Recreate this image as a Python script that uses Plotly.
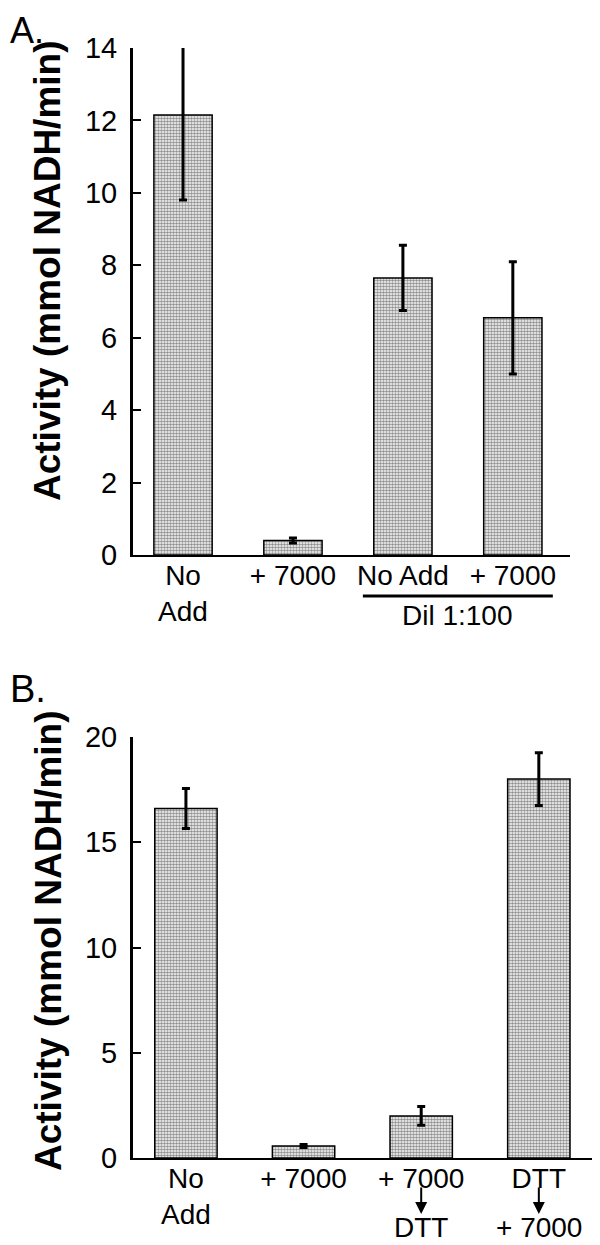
import plotly.graph_objects as go
from plotly.subplots import make_subplots

# panel A
labels_a = ["No<br>Add", "+ 7000", "No Add", "+ 7000"]
activity_a = [12.15, 0.4, 7.65, 6.55]
error_a = [2.35, 0.07, 0.9, 1.55]

# panel B (second line of the last two labels goes below an arrow)
labels_b = ["No<br>Add", "+ 7000", "+ 7000", "DTT"]
labels_b_after = ["", "", "DTT", "+ 7000"]
activity_b = [16.6, 0.57, 2.0, 18.0]
error_b = [0.95, 0.07, 0.45, 1.25]

ytitle = "Activity (mmol NADH/min)"
font = "Arial, Liberation Sans, sans-serif"

# page body has an 8px margin, so the figure is sized to fill the window
W, H = 592, 1237
OFF = 8


def px(v, total):
    return (v - OFF) / total


def py(v):
    return 1 - (v - OFF) / H


fig = make_subplots(rows=2, cols=1)

bar_style = dict(
    marker=dict(
        color="white",
        line=dict(color="black", width=1.5),
        pattern=dict(shape=".", fgcolor="#222", bgcolor="white", size=3, solidity=0.6),
    ),
    width=0.53,
    showlegend=False,
)
err_style = dict(type="data", visible=True, color="black", thickness=3, width=4)

fig.add_bar(x=list(range(len(activity_a))), y=activity_a,
            error_y=dict(array=error_a, **err_style), row=1, col=1, **bar_style)
fig.add_bar(x=list(range(len(activity_b))), y=activity_b,
            error_y=dict(array=error_b, **err_style), row=2, col=1, **bar_style)

fig.update_layout(
    width=W, height=H,
    margin=dict(l=0, r=0, t=0, b=0),
    plot_bgcolor="white", paper_bgcolor="white",
    font=dict(family=font, color="black"),
    xaxis=dict(domain=[px(133, W), px(570, W)], range=[-0.455, 3.52],
               tickvals=list(range(4)), ticktext=labels_a),
    xaxis2=dict(domain=[px(133, W), 1.0], range=[-0.45, 3.52],
                tickvals=list(range(4)), ticktext=labels_b),
    yaxis=dict(domain=[py(555), py(48)], range=[0, 14], dtick=2),
    yaxis2=dict(domain=[py(1158), py(737)], range=[0, 20], dtick=5),
)
fig.update_xaxes(showline=True, linecolor="black", linewidth=2, ticks="",
                 showgrid=False, zeroline=False, tickfont=dict(size=28),
                 ticklabelstandoff=-6, automargin=False)
fig.update_yaxes(showline=True, linecolor="black", linewidth=3, ticks="inside",
                 ticklen=8, tickwidth=2, tickcolor="black", showgrid=False,
                 zeroline=False, tickfont=dict(size=29), ticklabelstandoff=7,
                 automargin=False)

# axis titles and panel letters
for yc in [py(271), py(941)]:
    fig.add_annotation(text="<b>" + ytitle + "</b>", x=px(48, W), y=yc,
                       xref="paper", yref="paper", textangle=-90,
                       xanchor="center", yanchor="middle",
                       showarrow=False, font=dict(size=37))
fig.add_annotation(text="A.", x=0, y=1, xref="paper", yref="paper",
                   xanchor="left", yanchor="top", showarrow=False, font=dict(size=36))
fig.add_annotation(text="B.", x=0, y=py(689), xref="paper", yref="paper",
                   xanchor="left", yanchor="middle", showarrow=False, font=dict(size=38))

# dilution bracket under the last two bars of A
fig.add_shape(type="line", xref="x", yref="paper", x0=2 - 0.364, x1=3 + 0.364,
              y0=py(596), y1=py(596), line=dict(color="black", width=3))
fig.add_annotation(text="Dil 1:100", x=2.5, y=py(615), xref="x", yref="paper",
                   yanchor="middle", showarrow=False, font=dict(size=28))

# arrows and follow-up treatment under panel B
for i, txt in enumerate(labels_b_after):
    if not txt:
        continue
    fig.add_annotation(text="", x=i, y=py(1214), xref="x2", yref="paper",
                       ax=0, ay=-28, showarrow=True, arrowhead=2, arrowsize=1.2,
                       arrowwidth=2, arrowcolor="black")
    fig.add_annotation(text=txt, x=i, y=0, xref="x2", yref="paper",
                       yanchor="bottom", showarrow=False, font=dict(size=28))

fig.write_html("out.html")
